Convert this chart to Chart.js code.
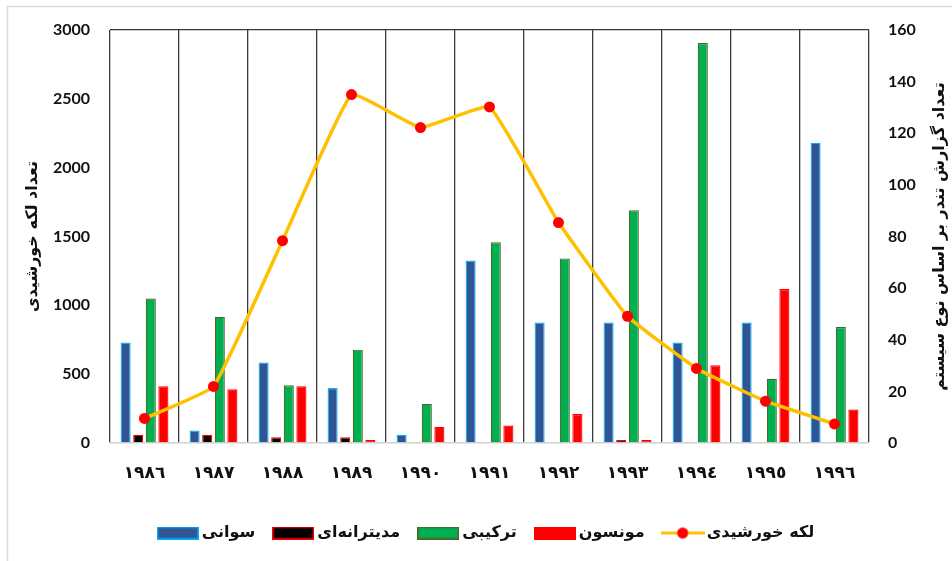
<!DOCTYPE html>
<html>
<head>
<meta charset="utf-8">
<script src="https://cdn.jsdelivr.net/npm/chart.js@4.4.1/dist/chart.umd.min.js"></script>
<style>
  html, body { margin: 0; padding: 0; background: #ffffff; }
  #wrap { width: 952px; height: 561px; }
</style>
</head>
<body>
<div id="wrap"><canvas id="c" width="952" height="561"></canvas></div>
<script>
// ---- data ----
const years = ['١٩٨٦', '١٩٨٧', '١٩٨٨', '١٩٨٩', '١٩٩٠', '١٩٩١', '١٩٩٢', '١٩٩٣', '١٩٩٤', '١٩٩٥', '١٩٩٦'];
const sawani = [730, 90, 585, 400, 60, 1325, 875, 875, 730, 875, 2180];
const mediterranean = [60, 60, 42, 42, 0, 0, 0, 22, 0, 0, 0];
const tarkibi = [1050, 916, 420, 678, 284, 1458, 1341, 1690, 2905, 466, 843];
const monsoon = [413, 391, 413, 22, 117, 127, 211, 22, 564, 1118, 243];
const sunspots = [9.5, 21.9, 78.4, 135.0, 122.2, 130.2, 85.4, 49.1, 28.9, 16.2, 7.4];

const leftTicks = { min: 0, max: 3000, step: 500 };
const rightTicks = { min: 0, max: 160, step: 20 };

const seriesNames = ['سوانی', 'مدیترانه\u200Cای', 'ترکیبی', 'مونسون', 'لکه خورشیدی'];
const leftTitle = 'تعداد لکه خورشیدی';
const rightTitle = 'تعداد گزارش تندر بر اساس نوع سیستم';

// ---- styles ----
const AR = "'DejaVu Sans', sans-serif";
const NUM = "Lato, 'DejaVu Sans', sans-serif";
const TXT = '#111111';

function boxIcon(fill, stroke) {
  const c = document.createElement('canvas');
  c.width = 42; c.height = 13;
  const g = c.getContext('2d');
  g.fillStyle = fill; g.fillRect(0, 0, 42, 13);
  g.strokeStyle = stroke; g.lineWidth = 1.5; g.strokeRect(0.75, 0.75, 40.5, 11.5);
  return c;
}
function lineIcon(lineColor, dotColor) {
  const c = document.createElement('canvas');
  c.width = 44; c.height = 13;
  const g = c.getContext('2d');
  g.strokeStyle = lineColor; g.lineWidth = 3;
  g.beginPath(); g.moveTo(0, 6.5); g.lineTo(44, 6.5); g.stroke();
  g.fillStyle = dotColor; g.beginPath(); g.arc(22, 6.5, 5.5, 0, Math.PI * 2); g.fill();
  return c;
}

const barCommon = { yAxisID: 'y', categoryPercentage: 0.73, barPercentage: 0.8, borderWidth: 1.2, borderSkipped: 'bottom' };

const datasets = [
  Object.assign({ label: seriesNames[0], data: sawani, backgroundColor: '#2F5597', borderColor: '#00B0F0' }, barCommon),
  Object.assign({ label: seriesNames[1], data: mediterranean, backgroundColor: '#000000', borderColor: '#FF0000' }, barCommon),
  Object.assign({ label: seriesNames[2], data: tarkibi, backgroundColor: '#00B050', borderColor: '#4F6228' }, barCommon),
  Object.assign({ label: seriesNames[3], data: monsoon, backgroundColor: '#FF0000', borderColor: '#FF0000' }, barCommon),
  {
    type: 'line', label: seriesNames[4], data: sunspots, yAxisID: 'y1', order: -1,
    borderColor: '#FFC000', borderWidth: 3.5, tension: 0.1,
    pointRadius: 5.5, pointBackgroundColor: '#FF0000', pointBorderColor: '#FF0000', pointBorderWidth: 0
  }
];
const icons = [
  boxIcon('#2F5597', '#00B0F0'),
  boxIcon('#000000', '#FF0000'),
  boxIcon('#00B050', '#4F6228'),
  boxIcon('#FF0000', '#FF0000'),
  lineIcon('#FFC000', '#FF0000')
];

const framePlugin = {
  id: 'frame',
  beforeDraw(chart) {
    const ctx = chart.ctx;
    ctx.save();
    ctx.fillStyle = '#ffffff';
    ctx.fillRect(0, 0, chart.width, chart.height);
    ctx.strokeStyle = '#d9d9d9';
    ctx.lineWidth = 1.5;
    ctx.strokeRect(7.5, 6.5, chart.width + 20, chart.height + 20);
    ctx.restore();
  }
};
const legendShiftPlugin = {
  id: 'legendShift',
  afterLayout(chart) {
    if (chart.legend) { chart.legend.left += 12; chart.legend.right += 12; }
  }
};
const rightTitlePlugin = {
  id: 'rightTitle',
  afterDraw(chart) {
    const ctx = chart.ctx;
    const a = chart.chartArea;
    ctx.save();
    ctx.translate(940, (a.top + a.bottom) / 2);
    ctx.rotate(-Math.PI / 2);
    ctx.font = 'bold 16px ' + AR;
    ctx.fillStyle = TXT;
    ctx.textAlign = 'center';
    ctx.textBaseline = 'middle';
    ctx.fillText(rightTitle, 0, 0);
    ctx.restore();
  }
};

new Chart(document.getElementById('c'), {
  type: 'bar',
  data: { labels: years, datasets },
  plugins: [framePlugin, legendShiftPlugin, rightTitlePlugin],
  options: {
    responsive: false,
    animation: false,
    layout: { padding: { top: 30, left: 0, right: 0, bottom: 10 } },
    plugins: {
      tooltip: { enabled: false },
      legend: {
        position: 'bottom',
        align: 'center',
        labels: {
          usePointStyle: true,
          pointStyleWidth: 32,
          boxHeight: 13,
          padding: 22,
          color: TXT,
          font: { family: AR, size: 16, weight: 'bold' },
          generateLabels(chart) {
            return chart.data.datasets.map((ds, i) => ({
              text: ds.label,
              pointStyle: icons[i],
              fillStyle: 'transparent',
              strokeStyle: 'transparent',
              lineWidth: 0,
              fontColor: TXT,
              hidden: false,
              datasetIndex: i
            }));
          }
        }
      }
    },
    scales: {
      x: {
        offset: true,
        grid: { offset: true, display: true, drawTicks: false, color: '#3a3a3a', lineWidth: 1.3 },
        border: { display: true, color: '#d0d0d0', width: 1.5 },
        ticks: { color: TXT, padding: 20, font: { family: AR, size: 17, weight: 'bold' }, maxRotation: 0 },
        afterFit(scale) { scale.height = 60; }
      },
      y: {
        position: 'left',
        min: leftTicks.min, max: leftTicks.max,
        ticks: { stepSize: leftTicks.step, color: TXT, padding: 20, font: { family: NUM, size: 16, weight: 'bold' }, callback: (v) => String(v) },
        grid: {
          drawTicks: false,
          color: (c) => (c.tick && c.tick.value === leftTicks.max ? '#3a3a3a' : 'rgba(0,0,0,0)'),
          lineWidth: 1.3
        },
        border: { display: false },
        title: { display: true, text: leftTitle, color: TXT, font: { family: AR, size: 16, weight: 'bold' }, padding: { top: 23, bottom: 0 } },
        afterFit(scale) { scale.width = 110; }
      },
      y1: {
        position: 'right',
        min: rightTicks.min, max: rightTicks.max,
        ticks: { stepSize: rightTicks.step, color: TXT, padding: 19, font: { family: NUM, size: 16, weight: 'bold' }, callback: (v) => String(v) },
        grid: { display: false, drawTicks: false },
        border: { display: false },
        afterFit(scale) { scale.width = 83; }
      }
    }
  }
});
</script>
</body>
</html>
